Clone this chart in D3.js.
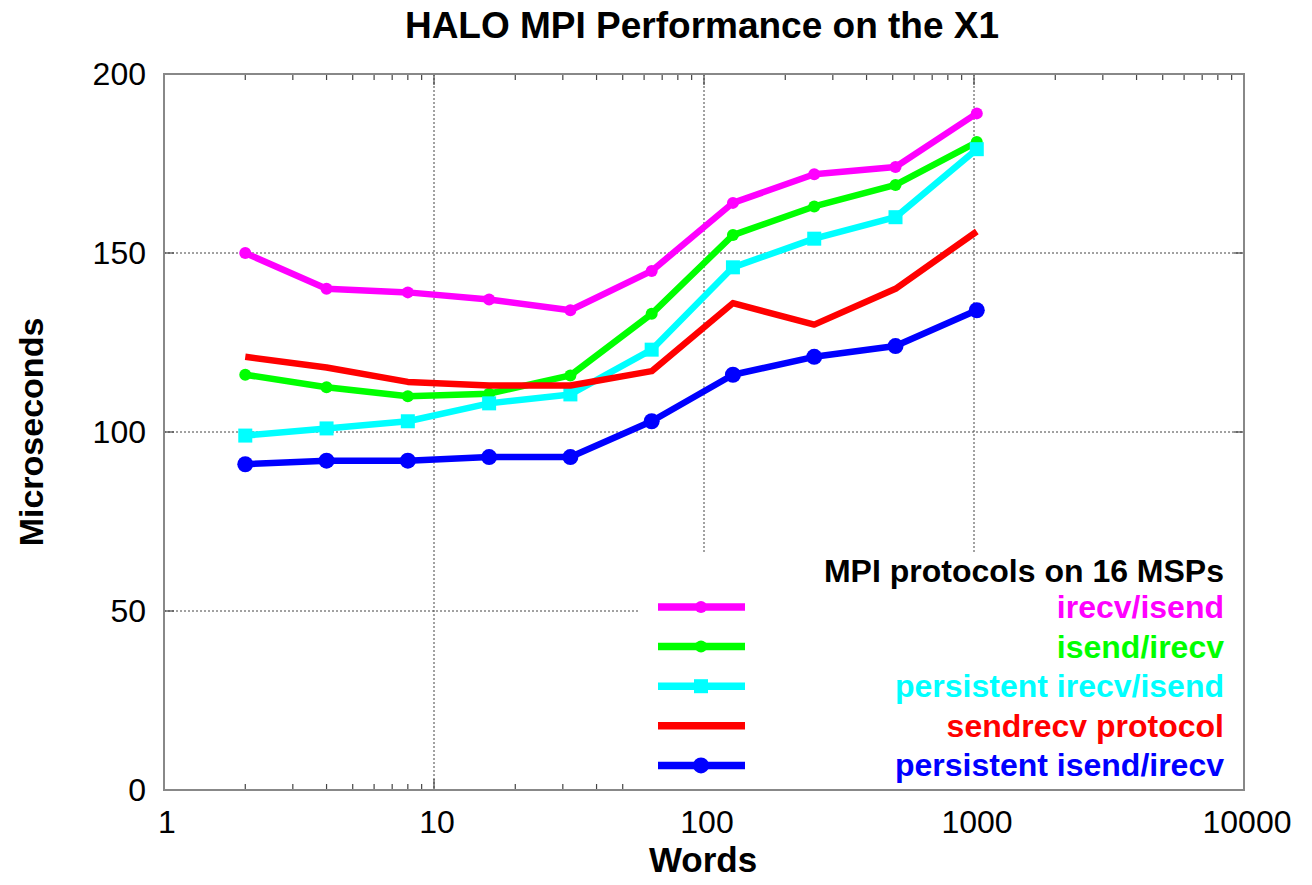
<!DOCTYPE html>
<html>
<head>
<meta charset="utf-8">
<script src="https://cdn.jsdelivr.net/npm/d3@7"></script>
<style>
  html, body { margin: 0; padding: 0; background: #fff; }
  svg { display: block; font-family: "Liberation Sans", Arial, sans-serif; }
</style>
</head>
<body>
<svg id="chart" width="1312" height="885"></svg>
<script>
// Message sizes (words) and latency in microseconds for each protocol
const words = [2, 4, 8, 16, 32, 64, 128, 256, 512, 1024];
const irecvIsend      = [150, 140, 139, 137, 134, 145, 164, 172, 174, 189];
const isendIrecv      = [116, 112.5, 110, 110.7, 115.8, 133, 155, 163, 169, 181];
const persIrecvIsend  = [99, 101, 103, 108, 110.5, 123, 146, 154, 160, 179];
const sendrecv        = [121, 118, 114, 113, 113, 117, 136, 130, 140, 156];
const persIsendIrecv  = [91, 92, 92, 93, 93, 103, 116, 121, 124, 134];

const seriesNames = ["irecv/isend", "isend/irecv", "persistent irecv/isend", "sendrecv protocol", "persistent isend/irecv"];
const seriesColors = ["#ff00ff", "#00ff00", "#00ffff", "#ff0000", "#0000ff"];
const seriesMarkers = ["circle", "circle", "square", "none", "bigcircle"];
const seriesValues = [irecvIsend, isendIrecv, persIrecvIsend, sendrecv, persIsendIrecv];

const xTicks = [1, 10, 100, 1000, 10000];
const yTicks = [0, 50, 100, 150, 200];

const title = "HALO MPI Performance on the X1";
const xTitle = "Words";
const yTitle = "Microseconds";
const legendTitle = "MPI protocols on 16 MSPs";

const svg = d3.select("#chart");
const plotL = 164, plotR = 1244, plotT = 74, plotB = 790;

const x = d3.scaleLog().domain([1, 10000]).range([plotL, plotR]);
const y = d3.scaleLinear().domain([0, 200]).range([plotB, plotT]);

// Minor decade ticks
const minor = [];
for (let d = 1; d < 10000; d *= 10) for (let k = 2; k <= 9; k++) minor.push(d * k);

// Grid lines (dotted)
const grid = svg.append("g").attr("stroke", "#444").attr("stroke-width", 1).attr("stroke-dasharray", "2,2");
grid.selectAll("line.gx").data(xTicks.slice(1, -1)).join("line")
  .attr("x1", d => x(d)).attr("x2", d => x(d)).attr("y1", plotT).attr("y2", plotB);
grid.selectAll("line.gy").data(yTicks.slice(1, -1)).join("line")
  .attr("x1", plotL).attr("x2", plotR).attr("y1", d => y(d)).attr("y2", d => y(d));

// Axes with inward ticks
const axisG = svg.append("g").attr("stroke", "#444").attr("stroke-width", 1.2);
[plotB, plotT].forEach(yy => {
  const dir = yy === plotB ? -1 : 1;
  axisG.append("g").selectAll("line").data(minor).join("line")
    .attr("x1", d => x(d)).attr("x2", d => x(d)).attr("y1", yy).attr("y2", yy + dir * 6);
  axisG.append("g").selectAll("line").data(xTicks).join("line")
    .attr("x1", d => x(d)).attr("x2", d => x(d)).attr("y1", yy).attr("y2", yy + dir * 11);
});
[plotL, plotR].forEach(xx => {
  const dir = xx === plotL ? 1 : -1;
  axisG.append("g").selectAll("line").data(yTicks).join("line")
    .attr("x1", xx).attr("x2", xx + dir * 10).attr("y1", d => y(d)).attr("y2", d => y(d));
});

// Tick labels
svg.append("g").selectAll("text").data(xTicks).join("text")
  .attr("x", d => x(d) + 3).attr("y", 833).attr("text-anchor", "middle")
  .attr("font-size", 32).attr("fill", "#000").text(d => d);
svg.append("g").selectAll("text").data(yTicks).join("text")
  .attr("x", 146).attr("y", d => y(d) + 11).attr("text-anchor", "end")
  .attr("font-size", 32).attr("fill", "#000").text(d => d);

// Series lines and markers
const line = d3.line().x((d, i) => x(words[i])).y(d => y(d));
function drawMarker(g, type, color, cx, cy) {
  if (type === "circle") g.append("circle").attr("cx", cx).attr("cy", cy).attr("r", 6).attr("fill", color);
  else if (type === "bigcircle") g.append("circle").attr("cx", cx).attr("cy", cy).attr("r", 8).attr("fill", color);
  else if (type === "square") g.append("rect").attr("x", cx - 7).attr("y", cy - 7).attr("width", 14).attr("height", 14).attr("fill", color);
}
seriesValues.forEach((vals, s) => {
  const g = svg.append("g");
  g.append("path").datum(vals).attr("d", line).attr("fill", "none")
    .attr("stroke", seriesColors[s]).attr("stroke-width", 6.5).attr("stroke-linejoin", "round");
  vals.forEach((v, i) => drawMarker(g, seriesMarkers[s], seriesColors[s], x(words[i]), y(v)));
});

// Legend panel
svg.append("rect").attr("x", 640).attr("y", 553).attr("width", plotR - 641).attr("height", plotB - 554).attr("fill", "#fff");
svg.append("text").attr("x", 1224).attr("y", 582).attr("text-anchor", "end")
  .attr("font-size", 32).attr("font-weight", "bold").attr("fill", "#000").text(legendTitle);
seriesNames.forEach((name, s) => {
  const ly = 607 + s * 39.6;
  const g = svg.append("g");
  g.append("line").attr("x1", 658).attr("x2", 745).attr("y1", ly).attr("y2", ly)
    .attr("stroke", seriesColors[s]).attr("stroke-width", 7.5);
  drawMarker(g, seriesMarkers[s], seriesColors[s], 701, ly);
  g.append("text").attr("x", 1224).attr("y", ly + 11).attr("text-anchor", "end")
    .attr("font-size", 32).attr("font-weight", "bold").attr("fill", seriesColors[s]).text(name);
});

// Frame
svg.append("rect").attr("x", plotL).attr("y", plotT).attr("width", plotR - plotL).attr("height", plotB - plotT)
  .attr("fill", "none").attr("stroke", "#888").attr("stroke-width", 2);

// Titles
svg.append("text").attr("x", 702).attr("y", 38).attr("text-anchor", "middle")
  .attr("font-size", 37).attr("font-weight", "bold").text(title);
svg.append("text").attr("x", 703).attr("y", 872).attr("text-anchor", "middle")
  .attr("font-size", 35).attr("font-weight", "bold").text(xTitle);
svg.append("text").attr("transform", "translate(43,432) rotate(-90)").attr("text-anchor", "middle")
  .attr("font-size", 34).attr("font-weight", "bold").text(yTitle);
</script>
</body>
</html>
